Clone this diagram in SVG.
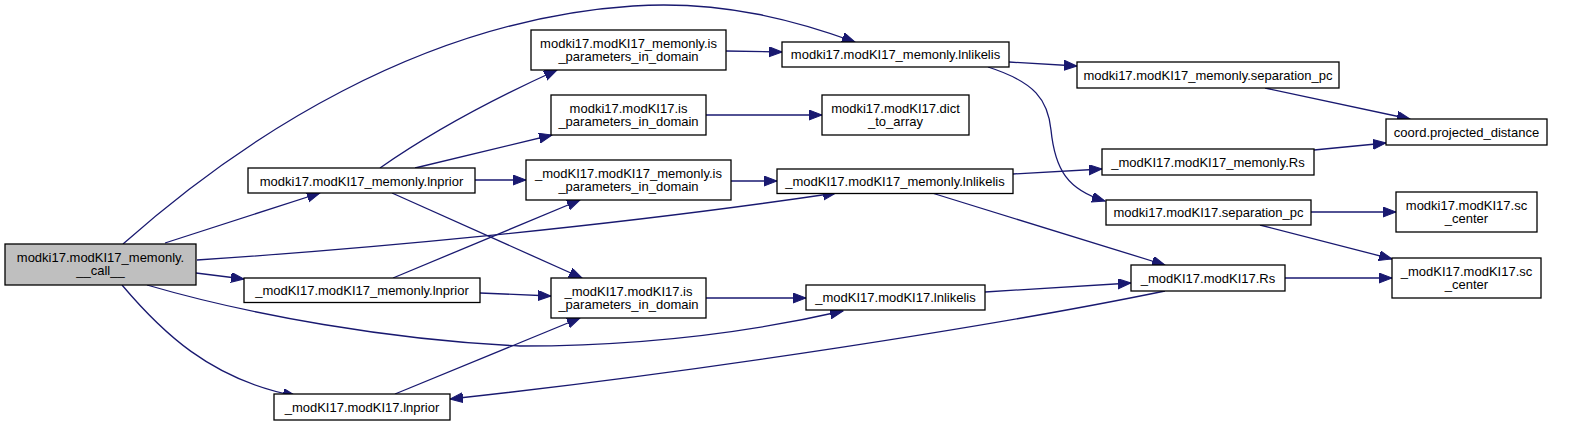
<svg xmlns="http://www.w3.org/2000/svg" width="1571" height="426" viewBox="0 0 1571 426">
<style>
.node rect{fill:#ffffff;stroke:#000000;stroke-width:1.3}
.node.root rect{fill:#bfbfbf}
.node text{font-family:"Liberation Sans",Arial,Helvetica,sans-serif;font-size:13px;fill:#000000;text-anchor:middle}
.edges path{fill:none;stroke:#191970;stroke-width:1.3;marker-end:url(#arr)}
</style>
<defs>
<marker id="arr" markerUnits="userSpaceOnUse" markerWidth="14" markerHeight="11" refX="13" refY="5" orient="auto">
<path d="M0,0 L13,5 L0,10 z" fill="#191970" stroke="#191970" stroke-width="1"/>
</marker>
</defs>
<rect x="0" y="0" width="1571" height="426" fill="#ffffff"/>
<g id="edges" class="edges">
<path d="M123,244 C240,140 420,20 633,6 C725,0 800,22 855,42"/>
<path d="M165,243 L320,193"/>
<path d="M197,260 C350,250 600,228 836,193"/>
<path d="M196,273 L244,279"/>
<path d="M147,285 C250,315 390,340 520,346 C650,346 760,330 843,311"/>
<path d="M122,285 C160,330 210,380 296,396"/>
<path d="M380,168 C420,140 480,105 557,70"/>
<path d="M415,168 L552,135"/>
<path d="M475,180 L526,180"/>
<path d="M392,193 L582,278"/>
<path d="M393,278 L580,200"/>
<path d="M480,293 L551,296"/>
<path d="M395,394 L580,318"/>
<path d="M1165,291 C1000,325 700,372 450,399"/>
<path d="M726,51 L782,52"/>
<path d="M706,115 L822,115"/>
<path d="M731,181 L777,181"/>
<path d="M706,298 L806,298"/>
<path d="M1009,62 L1077,66"/>
<path d="M988,67 C1035,82 1048,100 1051,130 C1055,170 1068,190 1105,201"/>
<path d="M1265,88 L1410,119"/>
<path d="M1013,174 L1102,169"/>
<path d="M1314,150 L1386,143"/>
<path d="M932,193 L1165,265"/>
<path d="M985,292 L1131,283"/>
<path d="M1311,212 L1396,212"/>
<path d="M1260,225 L1392,259"/>
<path d="M1285,278 L1392,278"/>
</g>
<g id="n_call" class="node root"><rect x="5" y="244" width="191" height="41"/><text x="100.5" y="261.5">modki17.modKI17_memonly.</text><text x="100.5" y="274.5">__call__</text></g>
<g id="n_lnprior_m" class="node"><rect x="248" y="168" width="227" height="25"/><text x="361.5" y="185.5">modki17.modKI17_memonly.lnprior</text></g>
<g id="n_lnprior_um" class="node"><rect x="244" y="278" width="236" height="24.5"/><text x="362" y="295">_modKI17.modKI17_memonly.lnprior</text></g>
<g id="n_lnprior_u" class="node"><rect x="274" y="394" width="176" height="26"/><text x="362" y="411.5">_modKI17.modKI17.lnprior</text></g>
<g id="n_is_m" class="node"><rect x="531" y="30" width="195" height="40"/><text x="628.5" y="47.5">modki17.modKI17_memonly.is</text><text x="628.5" y="60.5">_parameters_in_domain</text></g>
<g id="n_lnlik_m" class="node"><rect x="782" y="42" width="227" height="25"/><text x="895.5" y="59">modki17.modKI17_memonly.lnlikelis</text></g>
<g id="n_is_k" class="node"><rect x="551" y="95" width="155" height="40"/><text x="628.5" y="112.5">modki17.modKI17.is</text><text x="628.5" y="125.5">_parameters_in_domain</text></g>
<g id="n_dict" class="node"><rect x="822" y="95" width="147" height="40"/><text x="895.5" y="112.5">modki17.modKI17.dict</text><text x="895.5" y="125.5">_to_array</text></g>
<g id="n_is_um" class="node"><rect x="526" y="160" width="205" height="40"/><text x="628.5" y="177.5">_modKI17.modKI17_memonly.is</text><text x="628.5" y="190.5">_parameters_in_domain</text></g>
<g id="n_lnlik_um" class="node"><rect x="777" y="169" width="236" height="24.5"/><text x="895" y="186">_modKI17.modKI17_memonly.lnlikelis</text></g>
<g id="n_is_u" class="node"><rect x="551" y="278" width="155" height="40"/><text x="628.5" y="295.5">_modKI17.modKI17.is</text><text x="628.5" y="308.5">_parameters_in_domain</text></g>
<g id="n_lnlik_u" class="node"><rect x="806" y="285" width="179" height="25"/><text x="895.5" y="302">_modKI17.modKI17.lnlikelis</text></g>
<g id="n_sep_m" class="node"><rect x="1077" y="62" width="262" height="26"/><text x="1208" y="79.5">modki17.modKI17_memonly.separation_pc</text></g>
<g id="n_coord" class="node"><rect x="1386" y="119" width="161" height="26"/><text x="1466.5" y="136.5">coord.projected_distance</text></g>
<g id="n_rs_um" class="node"><rect x="1102" y="149" width="212" height="26"/><text x="1208" y="166.5">_modKI17.modKI17_memonly.Rs</text></g>
<g id="n_sep_k" class="node"><rect x="1106" y="200" width="205" height="25"/><text x="1208.5" y="217">modki17.modKI17.separation_pc</text></g>
<g id="n_sc_k" class="node"><rect x="1396" y="192" width="141" height="40"/><text x="1466.5" y="209.5">modki17.modKI17.sc</text><text x="1466.5" y="222.5">_center</text></g>
<g id="n_rs_u" class="node"><rect x="1131" y="265" width="154" height="26"/><text x="1208" y="282.5">_modKI17.modKI17.Rs</text></g>
<g id="n_sc_u" class="node"><rect x="1392" y="258" width="149" height="40"/><text x="1466.5" y="275.5">_modKI17.modKI17.sc</text><text x="1466.5" y="288.5">_center</text></g>
</svg>
